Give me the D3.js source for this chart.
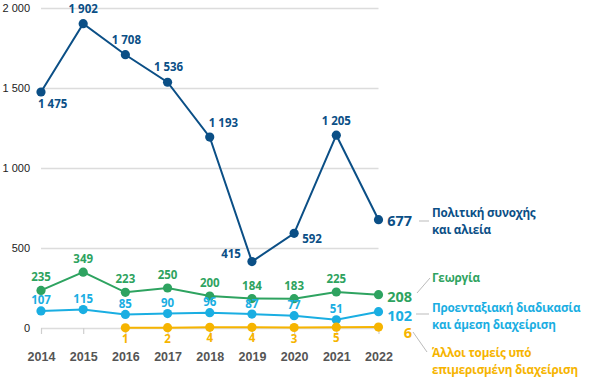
<!DOCTYPE html>
<html><head><meta charset="utf-8">
<script src="https://cdn.jsdelivr.net/npm/d3@7"></script>
<style>
body{margin:0;background:#fff;}
svg{display:block;font-family:"Open Sans",sans-serif;}
</style></head>
<body><svg id="c" width="600" height="385"></svg>
<script>
const years = [2014,2015,2016,2017,2018,2019,2020,2021,2022];
const cohesion = [1475,1902,1708,1536,1193,415,592,1205,677];
const agriculture = [235,349,223,250,200,184,183,225,208];
const preaccession = [107,115,85,90,96,87,77,51,102];
const otherShared = [null,null,1,2,4,4,3,5,6];
const yTicks = [0,500,1000,1500,2000];
const seriesNames = [
  ["Πολιτική συνοχής","και αλιεία"],
  ["Γεωργία"],
  ["Προενταξιακή διαδικασία","και άμεση διαχείριση"],
  ["Άλλοι τομείς υπό","επιμερισμένη διαχείριση"]
];

const colors = ["#0b4f86","#2ea360","#1aaee2","#f6b400"];
const svg = d3.select("#c");
const x = d3.scalePoint().domain(years).range([41,378.5]);
const y = d3.scaleLinear().domain([0,2000]).range([328,8]);
const fmt = v => d3.format(",")(v).replace(/,/g," ");

// grid
const ya = svg.append("g").attr("transform","translate(41,0)")
  .call(d3.axisLeft(y).tickValues(yTicks).tickSize(-337.5).tickFormat(fmt).tickPadding(11));
ya.select(".domain").remove();
ya.selectAll(".tick line").attr("stroke","#dcdcdc").attr("stroke-width",1.5);
ya.selectAll("text").attr("fill","#222").style("font-size","11px");

const xa = svg.append("g").attr("transform","translate(0,328)")
  .call(d3.axisBottom(x).tickSize(6).tickPadding(18).tickFormat(d=>d));
xa.select(".domain").remove();
xa.selectAll(".tick line").attr("stroke","#cfcfcf").attr("stroke-width",1.2);
xa.selectAll("text").attr("fill","#555").style("font-size","12.5px").style("font-weight","700");

const allSeries = [cohesion, agriculture, preaccession, otherShared];
const line = d3.line().defined(d=>d.v!=null).x(d=>x(d.y)).y(d=>y(d.v));

allSeries.forEach((s,i)=>{
  const pts = s.map((v,j)=>({y:years[j],v}));
  svg.append("path").datum(pts).attr("d",line).attr("fill","none")
    .attr("stroke",colors[i]).attr("stroke-width",2);
  svg.append("g").selectAll("circle").data(pts.filter(d=>d.v!=null)).join("circle")
    .attr("cx",d=>x(d.y)).attr("cy",d=>y(d.v)).attr("r",4.6).attr("fill",colors[i]);
});

// data labels
function lab(i,j,dx,dy,anchor){
  const v = allSeries[i][j];
  svg.append("text").attr("x",x(years[j])+dx).attr("y",y(v)+dy)
    .attr("text-anchor",anchor).attr("fill",colors[i])
    .style("font-size","11.5px").style("font-weight","700").text(fmt(v));
}
const cohOff = [[-3,16,"start"],[0,-11,"middle"],[1,-11,"middle"],[1,-11,"middle"],[-1,-10,"start"],[-11,-4,"end"],[8,10,"start"],[0,-10,"middle"]];
cohOff.forEach((o,j)=>lab(0,j,o[0],o[1],o[2]));
for(let j=0;j<8;j++) lab(1,j,0,-9,"middle");
for(let j=0;j<8;j++) lab(2,j,0,-6.5,"middle");
for(let j=2;j<8;j++) lab(3,j,0,15,"middle");

// end values
const endY = [225.5, 302, 320.5, 338];
allSeries.forEach((s,i)=>{
  svg.append("text").attr("x",412).attr("y",endY[i]).attr("text-anchor","end")
    .attr("fill",colors[i]).style("font-size","14.5px").style("font-weight","700").text(fmt(s[s.length-1]));
});

// connectors
const conn = [[419,221,429,221],[417,293,430,278],[416,314,429,314],[413,332,427,352]];
conn.forEach(c=>svg.append("line").attr("x1",c[0]).attr("y1",c[1]).attr("x2",c[2]).attr("y2",c[3])
  .attr("stroke","#bbb").attr("stroke-width",1));

// names
const nameY = [217, 282, 312, 357];
seriesNames.forEach((n,i)=>{
  const t = svg.append("text").attr("x",432).attr("y",nameY[i]).attr("fill",colors[i])
    .style("font-size","11.7px").style("font-weight","700").style("letter-spacing","-0.2px");
  n.forEach((s,k)=>t.append("tspan").attr("x",432).attr("dy",k?16.5:0).text(s));
});
</script></body></html>
